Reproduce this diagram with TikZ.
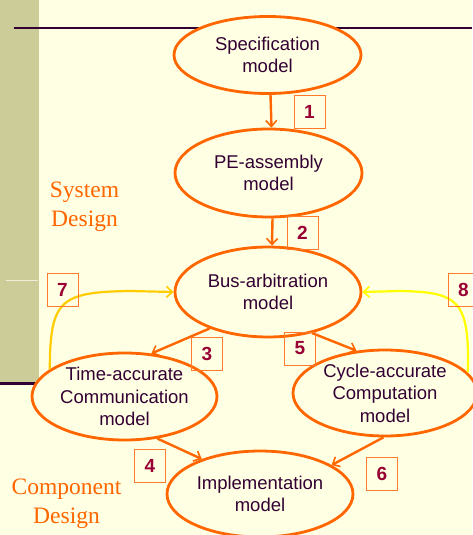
\documentclass[tikz,border=0pt]{standalone}
\usepackage{fontspec}
\newfontfamily\lsans{Liberation Sans}
\newfontfamily\lserif{Liberation Serif}
\usetikzlibrary{arrows.meta,shapes.geometric}
\definecolor{bg}{HTML}{FFFFE3}
\definecolor{band}{HTML}{CCCC99}
\definecolor{bandline}{HTML}{EEEED8}
\definecolor{rule}{HTML}{330033}
\definecolor{flow}{HTML}{FF6600}
\definecolor{boxline}{HTML}{FF7A2A}
\definecolor{txt}{HTML}{330033}
\definecolor{num}{HTML}{990033}
\definecolor{loopA}{HTML}{FFCC00}
\definecolor{loopB}{HTML}{FFFF00}
\begin{document}
\begin{tikzpicture}[x=1pt,y=-1pt,
  model/.style={ellipse, draw=flow, line width=2.8pt, fill=bg, inner sep=-8pt,
    align=center, text=txt, font=\lsans\fontsize{18.5}{22.5}\selectfont},
  numbox/.style={draw=boxline, line width=0.9pt, minimum width=31pt,
    minimum height=33pt, inner sep=0pt, text=num,
    font=\lsans\bfseries\fontsize{19}{20}\selectfont},
  phase/.style={align=center, inner sep=0pt, text=flow,
    font=\lserif\fontsize{23.5}{29}\selectfont},
  tip/.style={-{Straight Barb[length=6pt,width=11pt,line width=1.6pt]}},
  flowarrow/.style={draw=flow, line width=2.4pt, tip},
  feedbackA/.style={draw=loopA, line width=2.2pt, tip},
  feedbackB/.style={draw=loopB, line width=2.2pt, tip}]

% page, side band and rules
\useasboundingbox (0,0) rectangle (472,535);
\fill[bg] (0,0) rectangle (472,535);
\fill[band] (0,0) rectangle (39,382);
\draw[bandline, line width=1pt] (6,280) -- (38,280);
\draw[rule, line width=2pt] (14,28.5) -- (472,28.5);
\draw[rule, line width=3pt] (0,383.5) -- (60,383.5);

% phase labels
\node[phase] (sys) at (84.5,207) {System\\Design};
\node[phase] (comp) at (66.5,503.5) {Component\\Design};

% bends of the feedback loops
\coordinate (kA) at (130,291);
\coordinate (kB) at (400,291);

% models
\node[model, minimum width=187pt, minimum height=77pt] (spec) at (267.5,55) {Specification\\model};
\node[model, minimum width=187pt, minimum height=88pt] (pe) at (268.5,173) {PE-assembly\\model};
\node[model, minimum width=186pt, minimum height=90pt] (bus) at (268,292) {Bus-arbitration\\model};
\node[model, minimum width=185pt, minimum height=87pt] (ta) at (124.5,396.5) {Time-accurate\\Communication\\model};
\node[model, minimum width=184pt, minimum height=86pt] (cycle) at (385,393) {Cycle-accurate\\Computation\\model};
\node[model, minimum width=186pt, minimum height=86pt] (impl) at (260,494) {Implementation\\model};

% refinement steps
\draw[flowarrow] ([xshift=3pt]spec.south) -- ([xshift=3pt]pe.north);
\draw[flowarrow] ([xshift=4pt]pe.south) -- ([xshift=4pt]bus.north);
\draw[flowarrow] (bus.212) -- (ta.58);
\draw[flowarrow] (bus.-43) -- (cycle.124);
\draw[flowarrow] (ta.-52) -- (impl.149);
\draw[flowarrow] (cycle.-92) -- (impl.22);

% feedback to bus arbitration
\draw[feedbackA] (ta.160) .. controls (50,300) and (60,292) .. (kA) -- (bus.west);
\draw[feedbackB] (cycle.14) .. controls (470,300) and (458,292) .. (kB) -- (bus.east);

% step numbers
\node[numbox] (n1) at (309.5,112) {1};
\node[numbox] (n2) at (302.5,232.5) {2};
\node[numbox] (n3) at (207,353.5) {3};
\node[numbox] (n4) at (150,466) {4};
\node[numbox] (n5) at (300,348.5) {5};
\node[numbox] (n6) at (382,474) {6};
\node[numbox] (n7) at (62.5,290) {7};
\node[numbox] (n8) at (463.5,289.5) {8};
\end{tikzpicture}
\end{document}
